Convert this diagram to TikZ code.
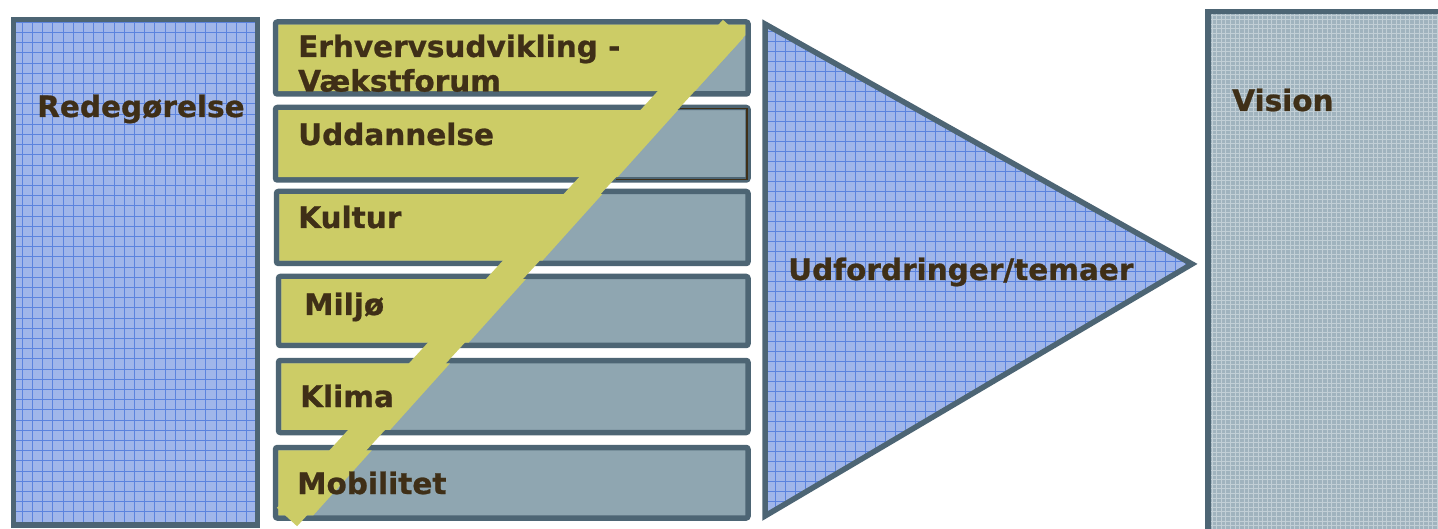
\documentclass[tikz,border=0pt]{standalone}
\usepackage{fontspec}
\setmainfont{DejaVu Sans}[BoldFeatures={FakeBold=0.8}]
\definecolor{bord}{HTML}{4D6574}
\definecolor{blueF}{HTML}{A0B6EA}
\definecolor{blueG}{HTML}{5B83DE}
\definecolor{greyF}{HTML}{8FA6B1}
\definecolor{yel}{HTML}{CCCC66}
\definecolor{txt}{HTML}{3F2F17}
\definecolor{visF}{HTML}{A0B3BE}
\definecolor{visG}{HTML}{C2CFD6}
\tikzset{
  lbl/.style={font=\bfseries\fontsize{29.5}{31}\selectfont, text=txt, anchor=base west, inner sep=0pt},
  frame/.style={draw=bord, line width=5.5pt},
  midbox/.style={draw=bord, fill=greyF, line width=5.5pt, rounded corners=2pt},
  bluegrid/.style={draw=blueG, line width=0.9pt},
  visgrid/.style={draw=visG, line width=0.7pt}
}
\begin{document}
\begin{tikzpicture}[x=1pt,y=-1pt]
\clip (0,0) rectangle (1438,529);
\fill[white] (0,0) rectangle (1438,529);
% left box
\begin{scope}
  \clip (13.5,19.5) rectangle (257.5,525);
  \fill[blueF] (13.5,19.5) rectangle (257.5,525);
  \foreach \i in {0,...,24} {\draw[bluegrid] (22.3+10.2*\i,0) -- (22.3+10.2*\i,540);}
  \foreach \i in {0,...,50} {\draw[bluegrid] (0,22.3+10.2*\i) -- (300,22.3+10.2*\i);}
\end{scope}
\draw[frame] (13.5,19.5) rectangle (257.5,525);
\node[lbl] (red) at (37,117) {Redegørelse};
% triangle
\begin{scope}
  \clip (765,24) -- (1192,264) -- (765,516) -- cycle;
  \fill[blueF] (760,0) rectangle (1200,529);
  \foreach \i in {0,...,43} {\draw[bluegrid] (775+10*\i,0) -- (775+10*\i,540);}
  \foreach \i in {0,...,52} {\draw[bluegrid] (760,21.7+10*\i) -- (1200,21.7+10*\i);}
\end{scope}
\draw[frame, line join=miter] (765,24) -- (1192,264) -- (765,516) -- cycle;
\node[lbl] (udf) at (788,280) {Udfordringer/temaer};
% vision box
\begin{scope}
  \clip (1208,11.5) rectangle (1450,540);
  \fill[visF] (1208,11.5) rectangle (1450,540);
  \foreach \i in {0,...,52} {\draw[visgrid] (1212+4.6*\i,0) -- (1212+4.6*\i,540);}
  \foreach \i in {0,...,115} {\draw[visgrid] (1200,15+4.6*\i) -- (1450,15+4.6*\i);}
\end{scope}
\draw[frame] (1208,11.5) rectangle (1460,545);
\node[lbl] (vis) at (1232,111) {Vision};
% middle boxes
\foreach \t/\b/\l in {22/94/275.5, 107.5/180/275.5, 191.5/263.5/276.5, 276.5/345.5/278.5, 360.5/432.5/278.5, 447.5/518/275.5}
  {\draw[midbox] (\l,\t) rectangle (748,\b);}
\begin{scope}
  \clip (278.25,24.75) rectangle (745.25,91.25)
        (278.25,110.25) rectangle (745.25,177.25)
        (279.25,194.25) rectangle (745.25,260.75)
        (281.25,279.25) rectangle (745.25,342.75)
        (281.25,363.25) rectangle (745.25,429.75)
        (278.25,450.25) rectangle (745.25,515.25);
  \fill[yel] (0,0) -- (777,0) -- (301,529) -- (0,529) -- cycle;
\end{scope}
\draw[txt, line width=1.8pt] (679.5,108.5) -- (747,108.5) -- (747,179.5) -- (615.5,179.5);
% diagonal band
\draw[yel, line width=27.3pt] (287,517) -- (733,29);
% labels
\node[lbl] (erh) at (298,57) {Erhvervsudvikling -};
\node[lbl] (vae) at (298,91.5) {Vækstforum};
\node[lbl] (udd) at (298,145) {Uddannelse};
\node[lbl] (kul) at (298,228) {Kultur};
\node[lbl] (mil) at (304,315) {Miljø};
\node[lbl] (kli) at (300,407) {Klima};
\node[lbl] (mob) at (297,494) {Mobilitet};
\end{tikzpicture}
\end{document}
